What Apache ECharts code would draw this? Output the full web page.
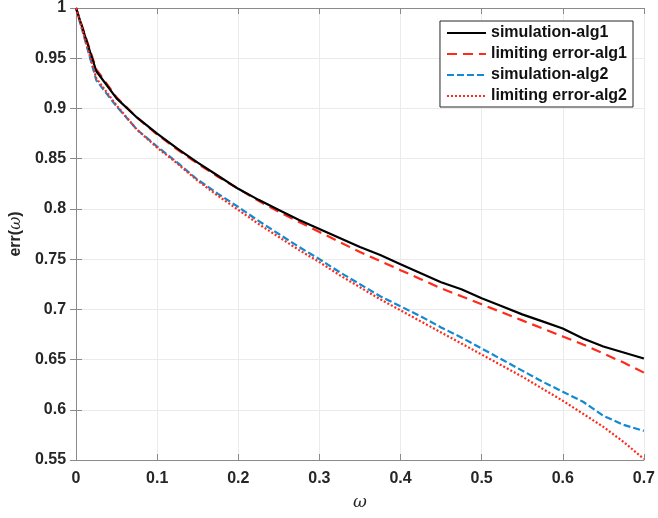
<!DOCTYPE html>
<html>
<head>
<meta charset="utf-8">
<script src="https://cdn.jsdelivr.net/npm/echarts@6/dist/echarts.min.js"></script>
<style>html,body{margin:0;padding:0;background:#fff}#c{width:658px;height:518px}</style>
</head>
<body>
<div id="c"></div>
<script>
const omega = [0,0.025,0.05,0.075,0.1,0.125,0.15,0.175,0.2,0.225,0.25,0.275,0.3,0.325,0.35,0.375,0.4,0.425,0.45,0.475,0.5,0.525,0.55,0.575,0.6,0.625,0.65,0.675,0.7];
const simAlg1 = [1.000,0.937,0.910,0.891,0.875,0.860,0.846,0.833,0.820,0.809,0.799,0.789,0.780,0.771,0.762,0.754,0.745,0.736,0.727,0.720,0.711,0.703,0.695,0.688,0.681,0.671,0.663,0.657,0.651];
const limAlg1 = [1.000,0.939,0.911,0.891,0.874,0.859,0.845,0.832,0.820,0.808,0.797,0.787,0.777,0.767,0.757,0.748,0.739,0.730,0.721,0.713,0.705,0.697,0.689,0.681,0.673,0.665,0.656,0.647,0.637];
const simAlg2 = [1.000,0.928,0.902,0.879,0.862,0.846,0.829,0.815,0.802,0.788,0.775,0.762,0.750,0.737,0.725,0.713,0.703,0.693,0.682,0.672,0.661,0.650,0.639,0.628,0.618,0.608,0.594,0.585,0.579];
const limAlg2 = [1.000,0.930,0.903,0.879,0.861,0.845,0.828,0.813,0.799,0.785,0.772,0.759,0.747,0.734,0.722,0.710,0.699,0.688,0.677,0.666,0.655,0.644,0.633,0.621,0.609,0.596,0.583,0.568,0.551];
const seriesNames = ['simulation-alg1','limiting error-alg1','simulation-alg2','limiting error-alg2'];

const pair = ys => omega.map((x,i)=>[x,ys[i]]);
const axisCol = '#8a8a8a';
const font = 'Liberation Sans, Arial, Helvetica, sans-serif';
const tickLbl = {color:'#262626', fontSize:16, fontWeight:'bold', fontFamily:font};

const chart = echarts.init(document.getElementById('c'), null, {renderer:'canvas'});
chart.setOption({
  animation:false,
  backgroundColor:'#fff',
  grid:{left:73,right:12,top:5,bottom:58,containLabel:false},
  legend:{
    orient:'vertical', right:25, top:21,
    data:seriesNames,
    itemWidth:39, itemHeight:15, itemGap:5,
    padding:[4,6,3,6],
    borderColor:'#262626', borderWidth:1, backgroundColor:'#fff',
    itemStyle:{opacity:0},
    textStyle:{color:'#111', fontSize:16, fontWeight:'bold', fontFamily:font}
  },
  xAxis:[{
    type:'value', min:0, max:0.7, interval:0.1,
    name:'ω', nameLocation:'middle', nameGap:34,
    nameTextStyle:{fontSize:17, fontStyle:'italic', color:'#262626', fontFamily:'DejaVu Serif, serif'},
    axisLine:{show:true, lineStyle:{color:axisCol, width:1}},
    axisTick:{show:true, inside:true, length:6, lineStyle:{color:axisCol}},
    axisLabel:Object.assign({margin:11, formatter:v=>String(+v.toFixed(1))}, tickLbl),
    splitLine:{show:true, lineStyle:{color:'#ebebeb', width:1}}
  },{
    type:'value', position:'top', min:0, max:0.7, interval:0.1,
    axisLine:{show:true, lineStyle:{color:axisCol, width:1}},
    axisTick:{show:true, inside:true, length:6, lineStyle:{color:axisCol}},
    axisLabel:{show:false}, splitLine:{show:false}
  }],
  yAxis:[{
    type:'value', min:0.55, max:1, interval:0.05,
    name:'{a|err(}{b|ω}{a|)}', nameLocation:'middle', nameGap:43, nameRotate:90,
    nameTextStyle:{rich:{
      a:{fontSize:16, fontWeight:'bold', color:'#262626', fontFamily:font},
      b:{fontSize:16, fontStyle:'italic', color:'#262626', fontFamily:'DejaVu Serif, serif'}
    }},
    axisLine:{show:true, lineStyle:{color:axisCol, width:1}},
    axisTick:{show:true, inside:true, length:6, lineStyle:{color:axisCol}},
    axisLabel:Object.assign({margin:10, formatter:v=>String(+v.toFixed(2))}, tickLbl),
    splitLine:{show:true, lineStyle:{color:'#ebebeb', width:1}}
  },{
    type:'value', position:'right', min:0.55, max:1, interval:0.05,
    axisLine:{show:true, lineStyle:{color:axisCol, width:1}},
    axisTick:{show:true, inside:true, length:6, lineStyle:{color:axisCol}},
    axisLabel:{show:false}, splitLine:{show:false}
  }],
  series:[
    {name:seriesNames[0], type:'line', data:pair(simAlg1), symbol:'none', smooth:false,
     lineStyle:{color:'#000', width:2.2, type:'solid'}, itemStyle:{color:'#000'}, z:5},
    {name:seriesNames[1], type:'line', data:pair(limAlg1), symbol:'none',
     lineStyle:{color:'#ff2a1a', width:2.2, type:[10,6]}, itemStyle:{color:'#ff2a1a'}, z:4},
    {name:seriesNames[2], type:'line', data:pair(simAlg2), symbol:'none',
     lineStyle:{color:'#1289d2', width:2.2, type:[7,3]}, itemStyle:{color:'#1289d2'}, z:3},
    {name:seriesNames[3], type:'line', data:pair(limAlg2), symbol:'none',
     lineStyle:{color:'#ff2a1a', width:2.2, type:[2,2]}, itemStyle:{color:'#ff2a1a'}, z:6}
  ]
});
</script>
</body>
</html>
